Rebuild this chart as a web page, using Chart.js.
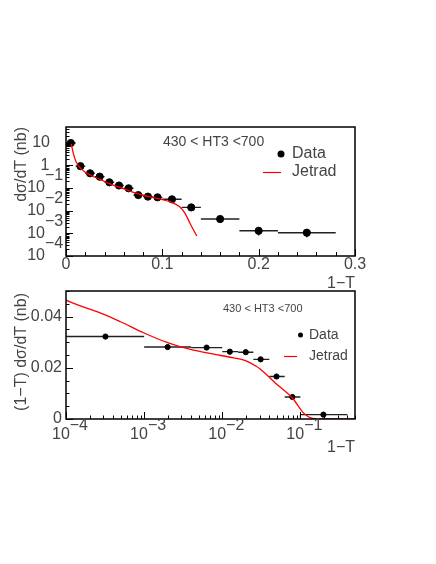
<!DOCTYPE html>
<html>
<head>
<meta charset="utf-8">
<script src="https://cdn.jsdelivr.net/npm/chart.js@4.4.1/dist/chart.umd.min.js"></script>
<style>
  body { margin: 0; background: #fff; }
  .pane { position: absolute; left: 0; width: 436px; }
</style>
</head>
<body>
<div class="pane" style="top:0;height:300px"><canvas id="top" width="436" height="300"></canvas></div>
<div class="pane" style="top:282px;height:282px"><canvas id="bottom" width="436" height="282"></canvas></div>
<script>
// top panel: dsigma/dT vs 1-T
const topThrust = [0.005, 0.015, 0.025, 0.035, 0.045, 0.055, 0.065, 0.075, 0.085, 0.095, 0.11, 0.13, 0.16, 0.20, 0.25];
const topBinLow = [0, 0.01, 0.02, 0.03, 0.04, 0.05, 0.06, 0.07, 0.08, 0.09, 0.10, 0.12, 0.14, 0.18, 0.22];
const topBinHigh = [0.01, 0.02, 0.03, 0.04, 0.05, 0.06, 0.07, 0.08, 0.09, 0.10, 0.12, 0.14, 0.18, 0.22, 0.28];
const topSigma = [9.8, 0.93, 0.45, 0.32, 0.18, 0.13, 0.098, 0.049, 0.042, 0.039, 0.032, 0.014, 0.0043, 0.0013, 0.00107];
const topSigmaErr = [0.5, 0.06, 0.03, 0.02, 0.012, 0.009, 0.007, 0.004, 0.0035, 0.003, 0.0025, 0.0012, 0.0005, 0.0005, 0.0004];
const topJetradT = [0.0052, 0.0076, 0.0104, 0.0163, 0.0249, 0.0353, 0.0457, 0.056, 0.0664, 0.0768, 0.0872, 0.0976, 0.108, 0.118, 0.1236, 0.1287, 0.1357];
const topJetradSigma = [10, 3.4, 1.45, 0.67, 0.38, 0.245, 0.152, 0.108, 0.074, 0.053, 0.041, 0.033, 0.025, 0.015, 0.0077, 0.0028, 0.00076];
const topXTicks = [0, 0.1, 0.2, 0.3];
const topYTicks = [10, 1, 0.1, 0.01, 0.001, 0.0001];

// bottom panel: (1-T) dsigma/dT vs 1-T, log x
const botThrust = [3.2e-4, 2.0e-3, 6.3e-3, 1.25e-2, 2.0e-2, 3.1e-2, 4.95e-2, 7.9e-2, 0.197];
const botBinLow = [1e-4, 1e-3, 4e-3, 1e-2, 1.6e-2, 2.5e-2, 4e-2, 6.3e-2, 0.1];
const botBinHigh = [1e-3, 4e-3, 1e-2, 1.6e-2, 2.5e-2, 4e-2, 6.3e-2, 0.1, 0.4];
const botValue = [0.0322, 0.0281, 0.0279, 0.0263, 0.0261, 0.0233, 0.0166, 0.0086, 0.0017];
const botValueErr = [0.0003, 0.0003, 0.0003, 0.0006, 0.0006, 0.0007, 0.0008, 0.0006, 0.0002];
const botJetradT = [1e-4, 1.5e-4, 3e-4, 5e-4, 1e-3, 2e-3, 3e-3, 5e-3, 9.3e-3, 1.4e-2, 1.94e-2, 2.72e-2, 3.0e-2, 4.9e-2, 8.0e-2, 0.107, 0.125, 0.144, 0.2, 0.5];
const botJetradValue = [0.0464, 0.0443, 0.0410, 0.0380, 0.0336, 0.0298, 0.0281, 0.0265, 0.0249, 0.0239, 0.0229, 0.0206, 0.0197, 0.0138, 0.0080, 0.0027, 0.0010, 0.0002, 0, 0];
const botEdgeT = [0.1, 0.1];
const botEdgeValue = [0, 0.0017];
const botXTicks = [1e-4, 1e-3, 1e-2, 1e-1];
const botYTicks = [0, 0.02, 0.04];

const ink = '#444';
const fontName = '"Liberation Sans", Arial, sans-serif';

function points(xs, ys) {
  return xs.map((x, i) => ({ x: x, y: ys[i] }));
}

function sup(n) {
  return '\u2212' + Math.abs(n);
}

// horizontal bin widths and vertical errors for the data points
const errorBars = {
  id: 'errorBars',
  beforeDatasetsDraw(chart) {
    const ctx = chart.ctx;
    const xs = chart.scales.x;
    const ys = chart.scales.y;
    ctx.save();
    ctx.strokeStyle = '#222';
    ctx.lineWidth = 1.4;
    chart.data.datasets.forEach((ds) => {
      if (!ds.xLow) return;
      ds.data.forEach((p, i) => {
        const py = ys.getPixelForValue(p.y);
        const px = xs.getPixelForValue(p.x);
        ctx.beginPath();
        ctx.moveTo(xs.getPixelForValue(ds.xLow[i]), py);
        ctx.lineTo(xs.getPixelForValue(ds.xHigh[i]), py);
        ctx.moveTo(px, ys.getPixelForValue(p.y + ds.yErr[i]));
        ctx.lineTo(px, ys.getPixelForValue(Math.max(p.y - ds.yErr[i], ys.min)));
        ctx.stroke();
      });
    });
    ctx.restore();
  },
};

function frameAndTicks(chart, xTicks, yTicks) {
  const { ctx, chartArea: a } = chart;
  const xs = chart.scales.x;
  const ys = chart.scales.y;
  ctx.save();
  ctx.strokeStyle = '#000';
  ctx.lineWidth = 1.5;
  ctx.strokeRect(a.left, a.top, a.right - a.left, a.bottom - a.top);
  ctx.lineWidth = 1;
  ctx.beginPath();
  xTicks.forEach(([v, len]) => {
    const px = Math.round(xs.getPixelForValue(v)) + 0.5;
    ctx.moveTo(px, a.bottom);
    ctx.lineTo(px, a.bottom - len);
  });
  yTicks.forEach(([v, len]) => {
    const py = Math.round(ys.getPixelForValue(v)) + 0.5;
    ctx.moveTo(a.left, py);
    ctx.lineTo(a.left + len, py);
  });
  ctx.stroke();
  ctx.restore();
}

const topDecor = {
  id: 'topDecor',
  afterDraw(chart) {
    const ctx = chart.ctx;
    const xs = chart.scales.x;
    const ys = chart.scales.y;
    const a = chart.chartArea;

    const xt = [];
    for (let i = 0; i <= 15; i++) xt.push([i * 0.02, i % 5 === 0 ? 7 : 4]);
    const yt = [];
    for (let d = -4; d <= 1; d++) {
      yt.push([Math.pow(10, d), 7]);
      for (let m = 2; m <= 9; m++) {
        const v = m * Math.pow(10, d);
        if (v < ys.max) yt.push([v, 3.5]);
      }
    }
    frameAndTicks(chart, xt, yt);

    ctx.save();
    ctx.fillStyle = ink;
    ctx.textBaseline = 'middle';
    ctx.font = '16px ' + fontName;
    ctx.textAlign = 'center';
    topXTicks.forEach((v) => {
      ctx.fillText(String(v), xs.getPixelForValue(v), 265);
    });
    topYTicks.forEach((v) => {
      const e = Math.round(Math.log10(v));
      const py = ys.getPixelForValue(v);
      if (e === 1) {
        ctx.textAlign = 'right';
        ctx.fillText('10', 50, py);
      } else if (e === 0) {
        ctx.textAlign = 'center';
        ctx.fillText('1', 45, py);
      } else {
        ctx.textAlign = 'right';
        ctx.fillText('10', 45, py);
        ctx.textAlign = 'left';
        ctx.fillText(sup(e), 45, py - 12);
      }
    });

    // axis titles
    ctx.textAlign = 'right';
    ctx.fillText('1\u2212T', a.right, 284);
    ctx.save();
    ctx.translate(22, a.top);
    ctx.rotate(-Math.PI / 2);
    ctx.textAlign = 'right';
    ctx.fillText('d\u03c3/dT (nb)', 0, 0);
    ctx.restore();

    // cut label and legend
    ctx.font = '14px ' + fontName;
    ctx.textAlign = 'left';
    ctx.fillText('430 < HT3 <700', 163, 142);
    ctx.font = '16px ' + fontName;
    ctx.fillText('Data', 292, 154);
    ctx.fillText('Jetrad', 292, 172);
    ctx.fillStyle = '#000';
    ctx.beginPath();
    ctx.arc(281, 154, 3.5, 0, Math.PI * 2);
    ctx.fill();
    ctx.strokeStyle = '#ff0000';
    ctx.lineWidth = 1.2;
    ctx.beginPath();
    ctx.moveTo(263, 172.5);
    ctx.lineTo(281, 172.5);
    ctx.stroke();
    ctx.restore();
  },
};

const botDecor = {
  id: 'botDecor',
  afterDraw(chart) {
    const ctx = chart.ctx;
    const xs = chart.scales.x;
    const ys = chart.scales.y;
    const a = chart.chartArea;

    const xt = [];
    for (let d = -4; d <= -1; d++) {
      xt.push([Math.pow(10, d), 7]);
      for (let m = 2; m <= 9; m++) {
        const v = m * Math.pow(10, d);
        if (v <= xs.max) xt.push([v, 3.5]);
      }
    }
    const yt = [];
    for (let i = 0; i <= 10; i++) yt.push([i * 0.005, i % 4 === 0 ? 7 : 3.5]);
    frameAndTicks(chart, xt, yt);

    ctx.save();
    ctx.fillStyle = ink;
    ctx.textBaseline = 'middle';
    ctx.font = '16px ' + fontName;
    botXTicks.forEach((v) => {
      const e = Math.round(Math.log10(v));
      const px = xs.getPixelForValue(v);
      const w10 = ctx.measureText('10').width;
      const we = ctx.measureText(sup(e)).width;
      const start = px + 4 - (w10 + we) / 2;
      ctx.textAlign = 'left';
      ctx.fillText('10', start, 153);
      ctx.fillText(sup(e), start + w10, 144);
    });
    ctx.textAlign = 'right';
    botYTicks.forEach((v) => {
      ctx.fillText(String(v), 62, ys.getPixelForValue(v));
    });

    ctx.fillText('1\u2212T', a.right, 166);
    ctx.save();
    ctx.translate(22, a.top + 2);
    ctx.rotate(-Math.PI / 2);
    ctx.textAlign = 'right';
    ctx.fillText('(1\u2212T) d\u03c3/dT (nb)', 0, 0);
    ctx.restore();

    ctx.textAlign = 'left';
    ctx.font = '11px ' + fontName;
    ctx.fillText('430 < HT3 <700', 223, 27);
    ctx.font = '14px ' + fontName;
    ctx.fillText('Data', 309, 53);
    ctx.fillText('Jetrad', 309, 74);
    ctx.fillStyle = '#000';
    ctx.beginPath();
    ctx.arc(300.5, 53, 2.5, 0, Math.PI * 2);
    ctx.fill();
    ctx.strokeStyle = '#ff0000';
    ctx.lineWidth = 1.2;
    ctx.beginPath();
    ctx.moveTo(284, 74.5);
    ctx.lineTo(297, 74.5);
    ctx.stroke();
    ctx.restore();
  },
};

function hiddenScale(type, min, max, fit) {
  return {
    type: type,
    min: min,
    max: max,
    ticks: { display: false },
    grid: { display: false },
    border: { display: false },
    afterFit: fit,
  };
}

new Chart(document.getElementById('top'), {
  type: 'scatter',
  data: {
    datasets: [
      {
        label: 'Data',
        data: points(topThrust, topSigma),
        xLow: topBinLow,
        xHigh: topBinHigh,
        yErr: topSigmaErr,
        pointRadius: 3.6,
        backgroundColor: '#000',
        borderColor: '#000',
        showLine: false,
        order: 1,
      },
      {
        label: 'Jetrad',
        data: points(topJetradT, topJetradSigma),
        showLine: true,
        borderColor: '#ff0000',
        borderWidth: 1.3,
        pointRadius: 0,
        cubicInterpolationMode: 'monotone',
        order: 0,
      },
    ],
  },
  options: {
    responsive: false,
    animation: false,
    layout: { padding: { left: 0, top: 127, right: 81, bottom: 0 } },
    plugins: { legend: { display: false }, tooltip: { enabled: false } },
    scales: {
      x: hiddenScale('linear', 0, 0.3, (s) => { s.height = 44; }),
      y: hiddenScale('logarithmic', 1e-4, 50, (s) => { s.width = 66; }),
    },
  },
  plugins: [errorBars, topDecor],
});

new Chart(document.getElementById('bottom'), {
  type: 'scatter',
  data: {
    datasets: [
      {
        label: 'Data',
        data: points(botThrust, botValue),
        xLow: botBinLow,
        xHigh: botBinHigh,
        yErr: botValueErr,
        pointRadius: 2.6,
        backgroundColor: '#000',
        borderColor: '#000',
        showLine: false,
        order: 1,
      },
      {
        label: 'Jetrad',
        data: points(botJetradT, botJetradValue),
        showLine: true,
        borderColor: '#ff0000',
        borderWidth: 1.3,
        pointRadius: 0,
        cubicInterpolationMode: 'monotone',
        order: 0,
      },
      {
        label: 'edge',
        data: points(botEdgeT, botEdgeValue),
        showLine: true,
        borderColor: '#000',
        borderWidth: 1,
        pointRadius: 0,
        order: 2,
      },
    ],
  },
  options: {
    responsive: false,
    animation: false,
    layout: { padding: { left: 0, top: 9, right: 81, bottom: 0 } },
    plugins: { legend: { display: false }, tooltip: { enabled: false } },
    scales: {
      x: hiddenScale('logarithmic', 1e-4, 0.5, (s) => { s.height = 145; }),
      y: hiddenScale('linear', 0, 0.05, (s) => { s.width = 66; }),
    },
  },
  plugins: [errorBars, botDecor],
});
</script>
</body>
</html>
